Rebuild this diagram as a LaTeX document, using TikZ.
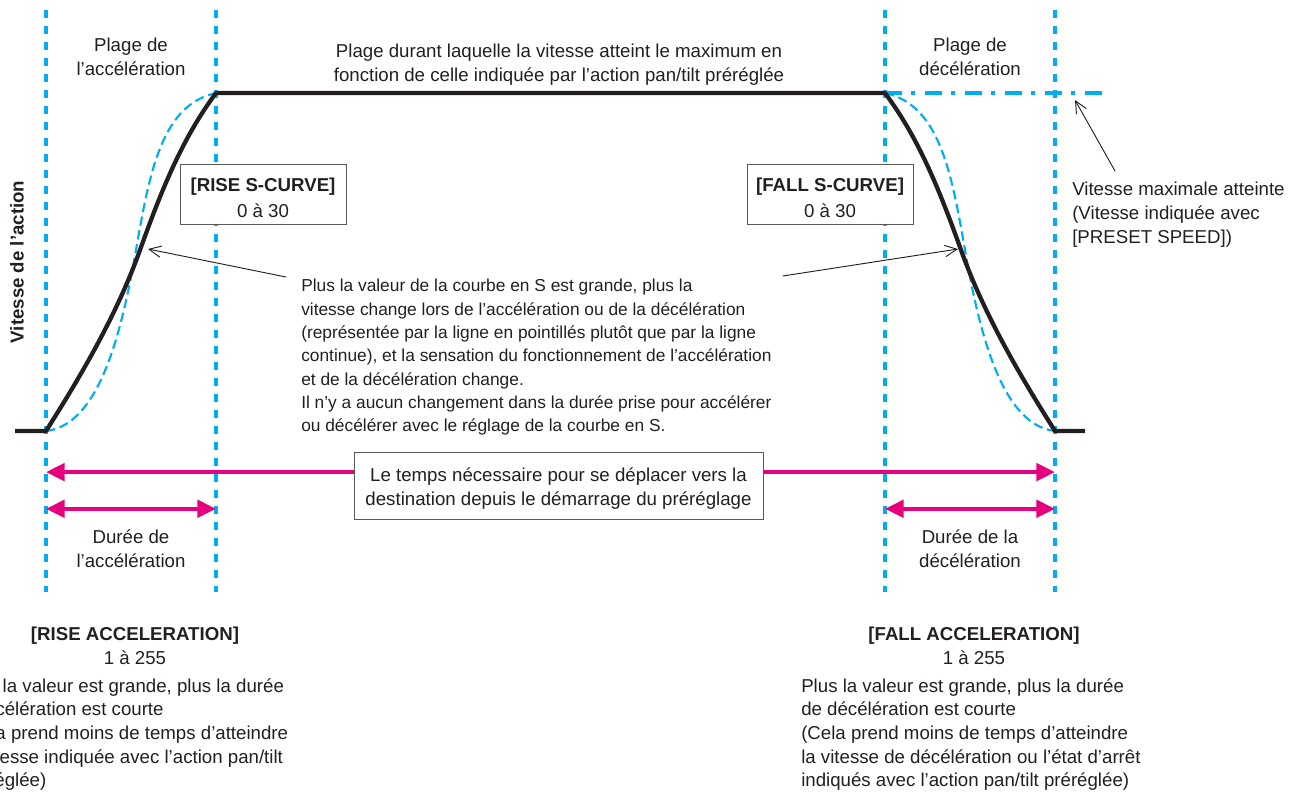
\documentclass[tikz,border=0pt]{standalone}
\usepackage{fontspec}
\setmainfont{Liberation Sans}
\usepackage{tikz}
\usetikzlibrary{positioning,calc,arrows.meta}
\definecolor{GuideCyan}{RGB}{0,174,239}
\definecolor{SpanMagenta}{RGB}{230,0,126}
\definecolor{InkGray}{RGB}{35,31,32}
\definecolor{FrameGray}{RGB}{90,90,90}

\begin{document}
\begin{tikzpicture}[
    x=0.75pt,
    y=-0.75pt,
    font=\fontsize{14}{17.8}\selectfont,
    text=InkGray,
    guide/.style={
        draw=GuideCyan,
        line width=3.6pt,
        dash pattern=on 6pt off 6pt
    },
    profile/.style={
        draw=InkGray,
        line width=3.2pt,
        line join=round
    },
    scurve/.style={
        draw=GuideCyan,
        line width=1.6pt,
        dash pattern=on 7pt off 3.5pt
    },
    maxline/.style={
        draw=GuideCyan,
        line width=3pt,
        dash pattern=on 12.75pt off 7pt on 3pt off 7.25pt
    },
    span/.style={
        {Triangle[length=14pt,width=13pt]}-{Triangle[length=14pt,width=13pt]},
        draw=SpanMagenta,
        fill=SpanMagenta,
        line width=3pt
    },
    pointer/.style={
        -{Straight Barb[length=9pt,width=8.5pt]},
        draw=InkGray,
        line width=0.7pt
    },
    label/.style={
        align=center,
        inner sep=0pt
    },
    note/.style={
        align=left,
        inner sep=0pt,
        anchor=north west
    },
    valuebox/.style={
        draw=FrameGray,
        line width=0.7pt,
        fill=white,
        align=center,
        inner sep=0pt
    }
]
\useasboundingbox (0,0) rectangle (1299,793);
\clip (0,0) rectangle (1299,793);

% guide lines
\foreach \gx/\gn in {46/ga,216/gb,885/gc,1055/gd}{
    \coordinate (\gn-top) at (\gx,10);
    \coordinate (\gn-bot) at (\gx,592);
    \draw[guide] (\gn-top) -- (\gn-bot);
}

% speed profile
\coordinate (low left) at (15,431);
\coordinate (rise start) at (46,431);
\coordinate (rise end) at (216,93);
\coordinate (fall start) at (885,93);
\coordinate (fall end) at (1055,431);
\coordinate (low right) at (1085,431);
\coordinate (max end) at (1105,93);

\draw[maxline] (fall start) -- (max end);

\draw[scurve] (rise start) .. controls (100,425) and (122,330) .. (136,250)
    .. controls (150,170) and (162,105) .. (rise end);
\draw[scurve] (fall start) .. controls (939,105) and (951,170) .. (965,250)
    .. controls (979,330) and (1001,425) .. (fall end);

\draw[profile] (low left) -- (rise start)
    .. controls (75,385) and (115,320) .. (140,250)
    .. controls (165,180) and (185,135) .. (rise end)
    -- (fall start)
    .. controls (916,135) and (936,180) .. (961,250)
    .. controls (986,320) and (1026,385) .. (fall end)
    -- (low right);

% labels above
\node[label] (accrange) at (131,57) {Plage de\\l’accélération};
\node[label] (decrange) at (970,57) {Plage de\\décélération};
\node[label, font=\fontsize{14}{18}\selectfont] (toprange) at (559,65) {Plage durant laquelle la vitesse atteint le maximum en\\fonction de celle indiquée par l’action pan/tilt préréglée};
\node[label, rotate=90, font=\fontsize{14}{16}\selectfont\bfseries] (yaxis) at (17,262) {Vitesse de l’action};

\node[valuebox, minimum width=124.5pt, minimum height=45pt, font=\fontsize{14}{19.5}\selectfont] (risebox) at (263,194)
    {\rule{0pt}{16pt}\textbf{[RISE S-CURVE]}\\0 à 30};
\node[valuebox, minimum width=124.5pt, minimum height=45pt, font=\fontsize{14}{19.5}\selectfont] (fallbox) at (830,194)
    {\rule{0pt}{16pt}\textbf{[FALL S-CURVE]}\\0 à 30};

\node[note] (maxnote) at (1072,182) {Vitesse maximale atteinte\\(Vitesse indiquée avec\\{[PRESET SPEED]})};
\coordinate (maxtip) at (1075,100);
\draw[pointer] ($(maxnote.north west)+(43,-11)$) -- (maxtip);

\node[note, font=\fontsize{13}{17.5}\selectfont] (snote) at (301,279) {Plus la valeur de la courbe en S est grande, plus la\\
vitesse change lors de l'accélération ou de la décélération\\
(représentée par la ligne en pointillés plutôt que par la ligne\\
continue), et la sensation du fonctionnement de l'accélération\\
et de la décélération change.\\
Il n'y a aucun changement dans la durée prise pour accélérer\\
ou décélérer avec le réglage de la courbe en S.};
\coordinate (risetip) at (148,249);
\coordinate (falltip) at (958,249);
\draw[pointer] ($(snote.north west)+(-15,-2)$) -- (risetip);
\draw[pointer] ($(snote.north east)+(11,-3)$) -- (falltip);

% durations
\draw[span] ($(ga-top)!0.794!(ga-bot)$) coordinate (total left)
    -- ($(gd-top)!0.794!(gd-bot)$) coordinate (total right);
\node[valuebox, minimum width=306.75pt, minimum height=50.25pt, font=\fontsize{14}{18}\selectfont] (totalbox) at (558.5,485.5)
    {\rule{0pt}{15pt}Le temps nécessaire pour se déplacer vers la\\destination depuis le démarrage du préréglage};

\draw[span] ($(ga-top)!0.857!(ga-bot)$) -- ($(gb-top)!0.857!(gb-bot)$);
\draw[span] ($(gc-top)!0.857!(gc-bot)$) -- ($(gd-top)!0.857!(gd-bot)$);

\node[label] (accdur) at (131,549) {Durée de\\l’accélération};
\node[label] (decdur) at (970,549) {Durée de la\\décélération};

% parameters below
\node[label, font=\fontsize{14}{18}\selectfont] (risehead) at (135,646) {\textbf{[RISE ACCELERATION]}\\1 à 255};
\node[note] (risebody) at (-39,678) {Plus la valeur est grande, plus la durée\\
d’accélération est courte\\
(Cela prend moins de temps d’atteindre\\
la vitesse indiquée avec l’action pan/tilt\\
préréglée)};

\node[label, font=\fontsize{14}{18}\selectfont] (fallhead) at (974,646) {\textbf{[FALL ACCELERATION]}\\1 à 255};
\node[note] (fallbody) at (801,678) {Plus la valeur est grande, plus la durée\\
de décélération est courte\\
(Cela prend moins de temps d’atteindre\\
la vitesse de décélération ou l’état d’arrêt\\
indiqués avec l’action pan/tilt préréglée)};

\end{tikzpicture}
\end{document}
